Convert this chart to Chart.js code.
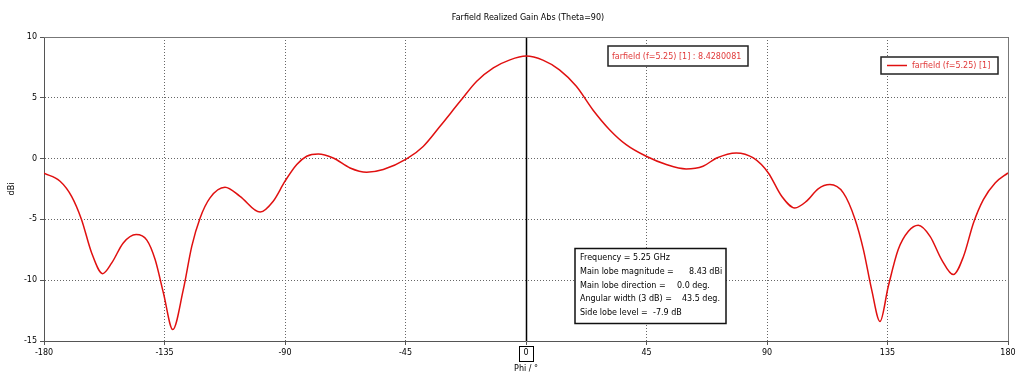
<!DOCTYPE html>
<html><head><meta charset="utf-8">
<script src="https://cdn.jsdelivr.net/npm/chart.js@4"></script>
<style>html,body{margin:0;padding:0;background:#fff}#wrap{width:1024px;height:381px;position:relative}</style>
</head><body><div id="wrap"><canvas id="c"></canvas></div>
<script>
const phi = [-180,-174,-169.7,-166,-162.2,-158.1,-154.7,-150.4,-145.6,-141.6,-138.5,-135.4,-131.9,-128,-124.8,-121.7,-118,-112.4,-106.8,-99.3,-94.4,-90,-85.6,-81.9,-77.6,-72,-65.7,-59.5,-53.3,-44.6,-38.4,-32.1,-24.6,-18.4,-12.2,-6,0,6.3,12.5,18.8,25,31.2,37.4,44.9,52.4,59.8,66.1,71.2,78.5,84.9,90.5,95.5,100.4,104.8,109.1,113.5,118.5,122.9,126,129.1,132.2,135.3,139,142.8,146.5,150.9,155.2,159.6,163.4,167.1,170.8,175.2,180];
const gain = [-1.2,-1.86,-3.1,-5.0,-7.76,-9.46,-8.58,-6.94,-6.25,-6.7,-8.3,-11.05,-14.06,-10.8,-7.2,-4.88,-3.23,-2.36,-3.1,-4.4,-3.5,-1.86,-0.49,0.19,0.38,0.05,-0.77,-1.12,-0.9,-0.03,1.0,2.66,4.71,6.36,7.46,8.12,8.43,8.1,7.3,5.95,4.0,2.38,1.15,0.19,-0.49,-0.85,-0.63,0.05,0.47,0.05,-1.18,-3.1,-4.06,-3.5,-2.49,-2.14,-2.82,-5.0,-7.48,-10.8,-13.4,-10.5,-7.48,-5.98,-5.48,-6.39,-8.3,-9.54,-8.03,-5.29,-3.37,-2.0,-1.18];
const xTicks = [-180,-135,-90,-45,0,45,90,135,180];
const yTicks = [-15,-10,-5,0,5,10];
const chartTitle = 'Farfield Realized Gain Abs (Theta=90)';
const xTitle = 'Phi / \u00b0';
const yTitle = 'dBi';
const seriesName = 'farfield (f=5.25) [1]';
const markerPhi = 0;
const markerText = 'farfield (f=5.25) [1] : 8.4280081';
const infoLabels = ['Frequency = 5.25 GHz','Main lobe magnitude =','Main lobe direction =','Angular width (3 dB) =','Side lobe level ='];
const infoValues = ['','8.43 dBi','0.0 deg.','43.5 deg.','-7.9 dB'];

const FONT = '"DejaVu Sans", sans-serif';
const FS = 8;
const RED = '#e01010';
const TXTRED = '#e03838';

const overlay = {
  id: 'overlay',
  beforeDatasetsDraw(chart) {
    const {ctx, chartArea: a, scales: {x}} = chart;
    ctx.save();
    const px = Math.round(x.getPixelForValue(markerPhi)) + 0.5;
    ctx.strokeStyle = '#000'; ctx.lineWidth = 1.5;
    ctx.beginPath(); ctx.moveTo(px, a.top); ctx.lineTo(px, a.bottom); ctx.stroke();
    ctx.restore();
  },
  afterDraw(chart) {
    const {ctx, chartArea: a, scales: {x}} = chart;
    ctx.save();
    ctx.strokeStyle = '#777'; ctx.lineWidth = 1;
    ctx.beginPath();
    ctx.moveTo(a.left, Math.round(a.top) + 0.5); ctx.lineTo(Math.round(a.right) + 0.5, Math.round(a.top) + 0.5);
    ctx.lineTo(Math.round(a.right) + 0.5, a.bottom);
    ctx.stroke();
    ctx.font = FS + 'px ' + FONT;
    ctx.textBaseline = 'middle';
    ctx.fillStyle = '#000'; ctx.textAlign = 'center';
    ctx.fillText(chartTitle, (a.left + a.right) / 2 + 2, 18);
    ctx.fillText(xTitle, (a.left + a.right) / 2, 369);
    ctx.save();
    ctx.translate(12, (a.top + a.bottom) / 2); ctx.rotate(-Math.PI / 2);
    ctx.fillText(yTitle, 0, 0);
    ctx.restore();
    const z = x.getPixelForValue(markerPhi);
    ctx.strokeStyle = '#000'; ctx.lineWidth = 1;
    ctx.strokeRect(Math.round(z) - 6.5, 346.5, 14, 15);
    ctx.lineWidth = 1.5; ctx.strokeStyle = '#222';
    ctx.fillStyle = '#fff';
    ctx.fillRect(608, 46, 140, 20); ctx.strokeRect(608, 46, 140, 20);
    ctx.fillStyle = TXTRED; ctx.textAlign = 'left';
    ctx.fillText(markerText, 612, 56.5);
    ctx.fillStyle = '#fff';
    ctx.fillRect(881, 57, 117, 17); ctx.strokeRect(881, 57, 117, 17);
    ctx.strokeStyle = RED; ctx.lineWidth = 1.5;
    ctx.beginPath(); ctx.moveTo(887, 65.5); ctx.lineTo(907, 65.5); ctx.stroke();
    ctx.fillStyle = TXTRED;
    ctx.fillText(seriesName, 912, 65.5);
    ctx.fillStyle = '#fff'; ctx.strokeStyle = '#111'; ctx.lineWidth = 1.5;
    ctx.fillRect(575, 248.5, 151, 75); ctx.strokeRect(575, 248.5, 151, 75);
    ctx.fillStyle = '#000';
    const valX = [0, 689, 677, 682, 653];
    infoLabels.forEach((t, i) => {
      const yy = 258 + i * 13.8;
      ctx.fillText(t, 580, yy);
      if (infoValues[i]) ctx.fillText(infoValues[i], valX[i], yy);
    });
    ctx.restore();
  }
};

new Chart(document.getElementById('c'), {
  type: 'line',
  data: {
    datasets: [{
      label: seriesName,
      data: phi.map((p, i) => ({x: p, y: gain[i]})),
      borderColor: RED,
      borderWidth: 1.5,
      pointRadius: 0,
      cubicInterpolationMode: 'monotone',
      fill: false
    }]
  },
  options: {
    responsive: true,
    maintainAspectRatio: false,
    animation: false,
    layout: {padding: {left: 0, right: 16, top: 37, bottom: 0}},
    plugins: {legend: {display: false}, tooltip: {enabled: false}, title: {display: false}},
    scales: {
      x: {
        type: 'linear', min: -180, max: 180,
        afterBuildTicks: s => { s.ticks = xTicks.map(v => ({value: v})); },
        afterFit: s => { s.height = 40; },
        ticks: {font: {family: FONT, size: FS}, color: '#000', padding: 3, maxRotation: 0, autoSkip: false},
        grid: {
          color: c => (c.tick && c.tick.value === 0) ? 'rgba(0,0,0,0)' : '#666',
          tickBorderDash: [], tickColor: '#555', tickLength: 4, drawTicks: true
        },
        border: {display: true, color: '#555', width: 1, dash: [1, 2]}
      },
      y: {
        type: 'linear', min: -15, max: 10,
        afterBuildTicks: s => { s.ticks = yTicks.map(v => ({value: v})); },
        afterFit: s => { s.width = 44; },
        ticks: {font: {family: FONT, size: FS}, color: '#000', padding: 3},
        grid: {color: '#666', tickBorderDash: [], tickColor: '#555', tickLength: 4},
        border: {display: true, color: '#555', width: 1, dash: [1, 2]}
      }
    }
  },
  plugins: [overlay]
});
</script></body></html>
